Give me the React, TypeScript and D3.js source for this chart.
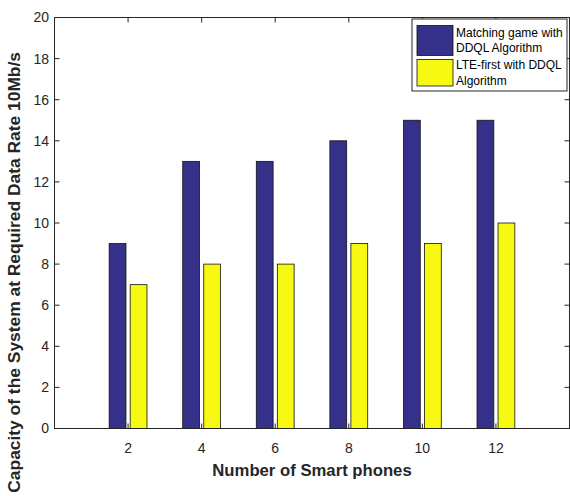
import React from "react";
import * as d3 from "d3";

const categories = [2, 4, 6, 8, 10, 12];
const matchingValues = [9, 13, 13, 14, 15, 15];
const lteValues = [7, 8, 8, 9, 9, 10];
const yTicks = [0, 2, 4, 6, 8, 10, 12, 14, 16, 18, 20];
const seriesNames = [
  ["Matching game with", "DDQL Algorithm"],
  ["LTE-first with DDQL", "Algorithm"],
];
const seriesColors = ["#35308A", "#F7F912"];

const W = 570;
const H = 496;
const left = 54.5;
const right = 569.5;
const top = 17.5;
const bottom = 428.5;

export default function App() {
  const x = d3.scaleLinear().domain([0, 14]).range([left, right]);
  const y = d3.scaleLinear().domain([0, 20]).range([bottom, top]);
  const groupWidth = 2 * Math.min(0.8, 2 / 3.5);
  const barW = (0.8 * groupWidth) / 2;
  const offsets = [-groupWidth / 4, groupWidth / 4];
  const series = [matchingValues, lteValues];
  const axisColor = "#262626";
  const font = "Arial, 'Liberation Sans', Helvetica, sans-serif";
  const tickLen = 5;
  const swatches = [
    { y: 25.5, h: 30 },
    { y: 59.5, h: 26.5 },
  ];
  const textY = [
    [32.5, 47.5],
    [64.5, 80.5],
  ];

  return (
    <div style={{ position: "absolute", left: 0, top: 0 }}>
      <svg width={W} height={H} style={{ display: "block", background: "#fff" }} fontFamily={font}>
        <rect x={0} y={0} width={W} height={H} fill="#fff" />
        {series.map((vals, si) =>
          vals.map((v, i) => {
            const c = categories[i] + offsets[si];
            const x0 = x(c - barW / 2);
            const x1 = x(c + barW / 2);
            return (
              <rect
                key={`${si}-${i}`}
                x={x0}
                y={y(v)}
                width={x1 - x0}
                height={y(0) - y(v)}
                fill={seriesColors[si]}
                stroke="#111"
                strokeWidth={0.8}
              />
            );
          })
        )}
        <rect x={left} y={top} width={right - left} height={bottom - top} fill="none" stroke={axisColor} strokeWidth={1} />
        {categories.map((c) => (
          <g key={`xt${c}`}>
            <line x1={x(c)} x2={x(c)} y1={bottom} y2={bottom - tickLen} stroke={axisColor} strokeWidth={1} />
            <line x1={x(c)} x2={x(c)} y1={top} y2={top + tickLen} stroke={axisColor} strokeWidth={1} />
            <text x={x(c)} y={453} textAnchor="middle" fontSize={14} fill={axisColor}>
              {c}
            </text>
          </g>
        ))}
        {yTicks.map((t) => (
          <g key={`yt${t}`}>
            <line x1={left} x2={left + tickLen} y1={y(t)} y2={y(t)} stroke={axisColor} strokeWidth={1} />
            <line x1={right} x2={right - tickLen} y1={y(t)} y2={y(t)} stroke={axisColor} strokeWidth={1} />
            <text x={49} y={y(t)} dy="0.35em" textAnchor="end" fontSize={14} fill={axisColor}>
              {t}
            </text>
          </g>
        ))}
        <text x={(left + right) / 2} y={476} textAnchor="middle" fontSize={16.7} fontWeight="bold" fill={axisColor}>
          Number of Smart phones
        </text>
        <text
          transform={`translate(19.5,52) rotate(-90)`}
          textAnchor="end"
          fontSize={17.4}
          fontWeight="bold"
          fill={axisColor}
        >
          Capacity of the System at Required Data Rate 10Mb/s
        </text>
        <g>
          <rect x={412} y={19} width={155} height={72} fill="#fff" stroke={axisColor} strokeWidth={1} />
          {seriesNames.map((lines, si) => (
            <g key={`lg${si}`}>
              <rect
                x={417}
                y={swatches[si].y}
                width={36}
                height={swatches[si].h}
                fill={seriesColors[si]}
                stroke="#111"
                strokeWidth={0.8}
              />
              {lines.map((ln, li) => (
                <text key={li} x={456} y={textY[si][li]} dy="0.35em" fontSize={12} fill="#000">
                  {ln}
                </text>
              ))}
            </g>
          ))}
        </g>
      </svg>
    </div>
  );
}
